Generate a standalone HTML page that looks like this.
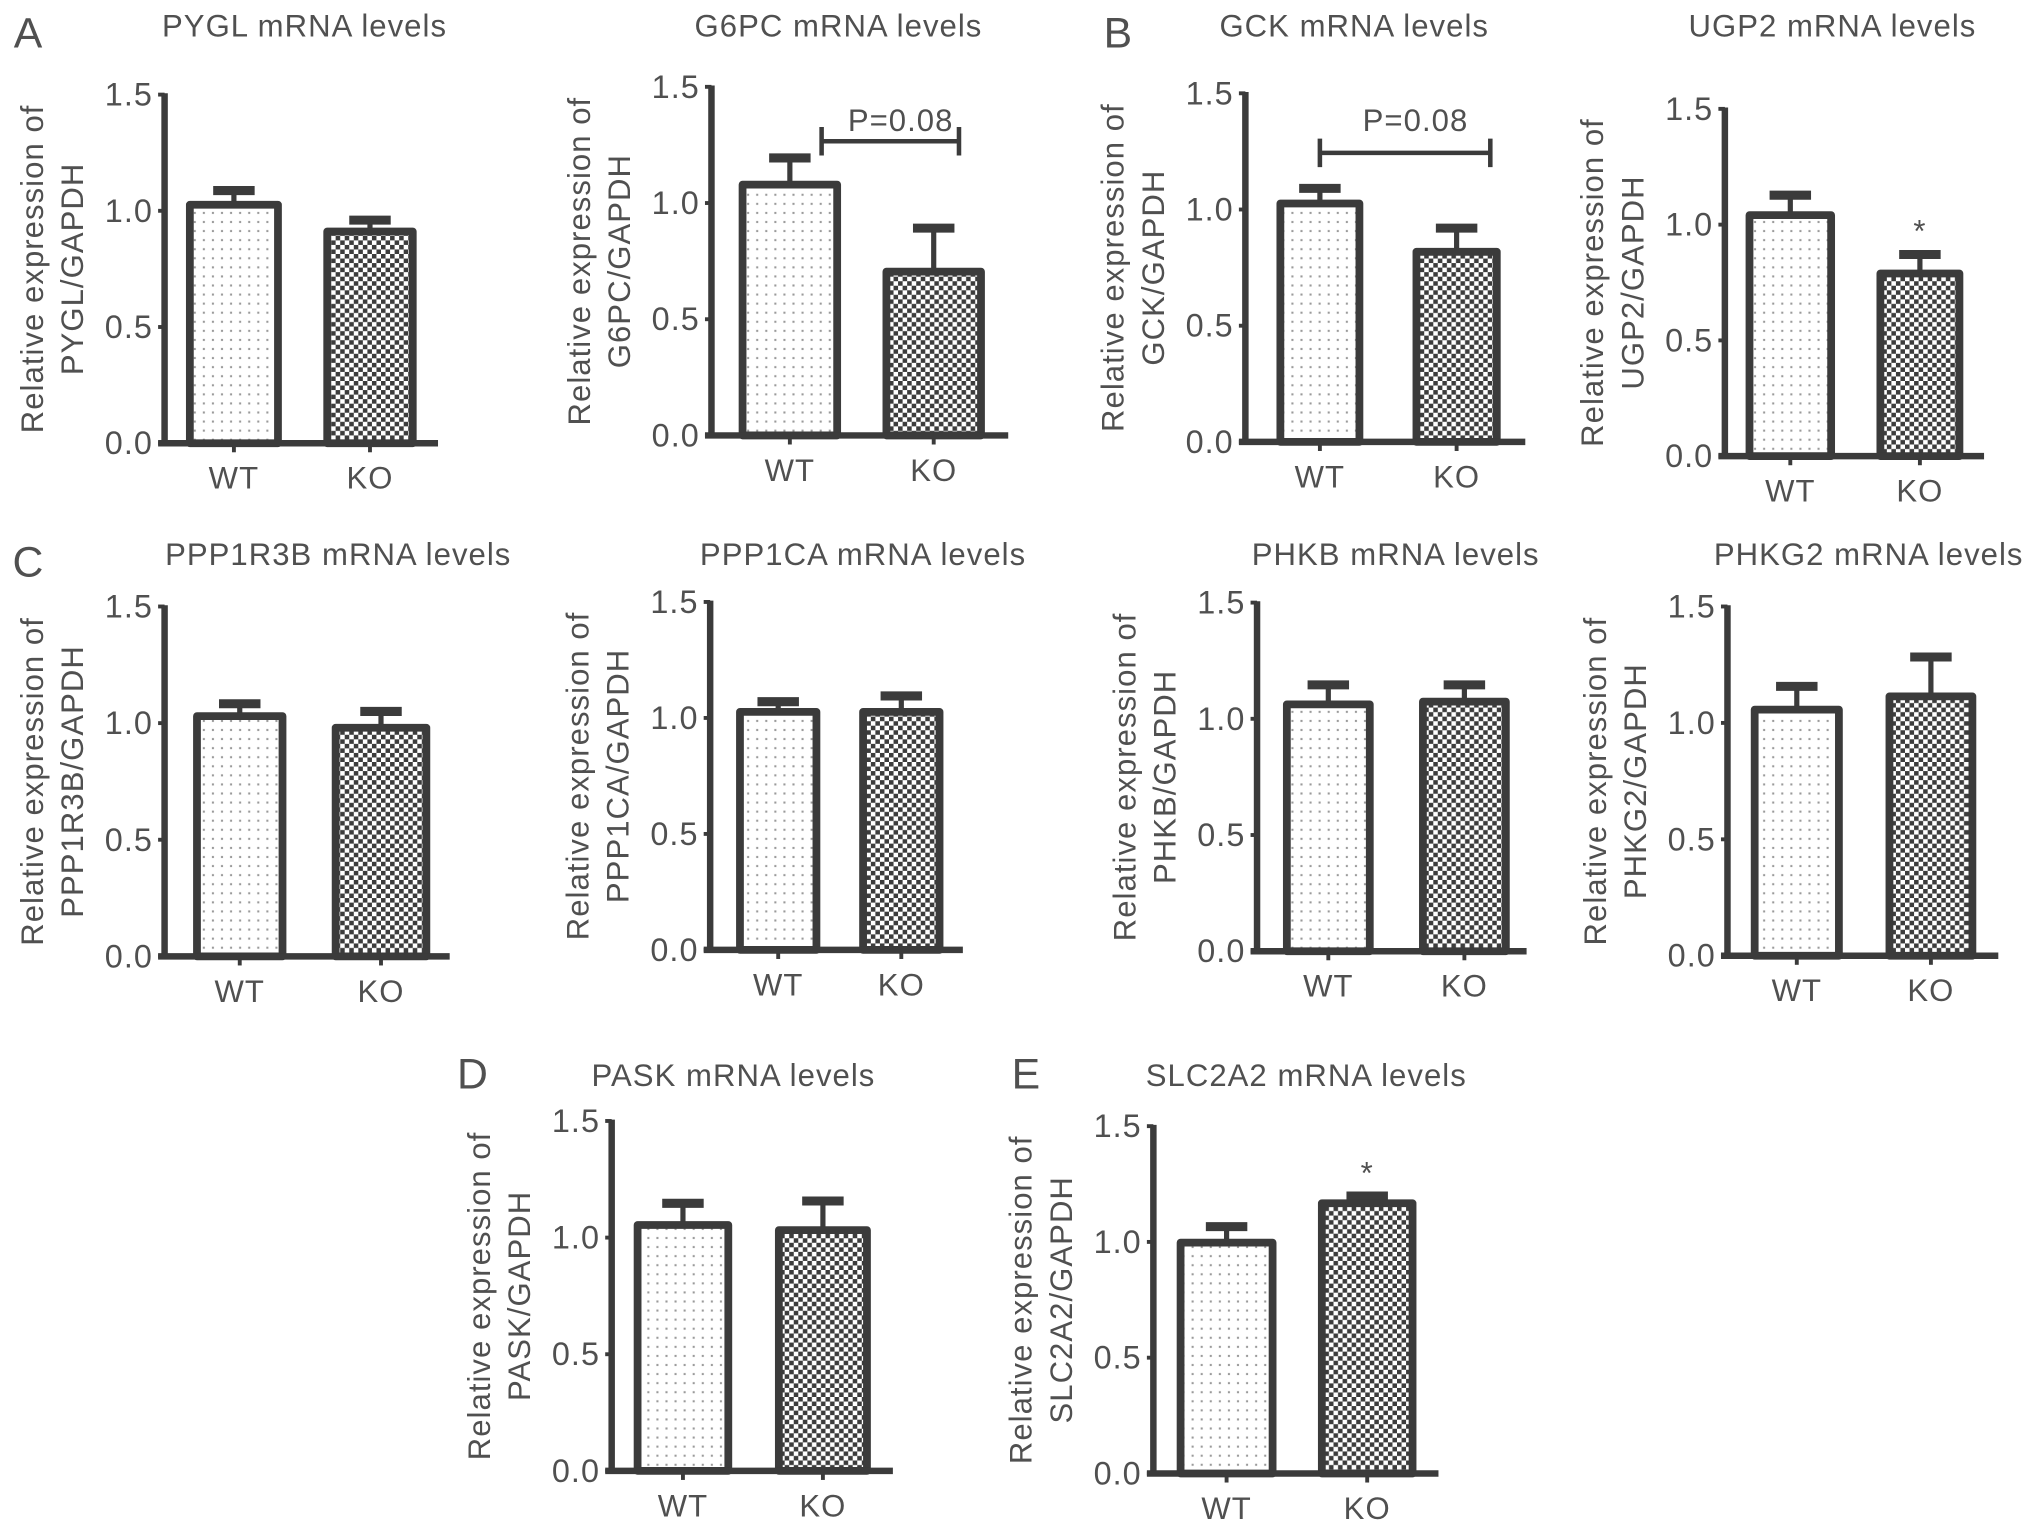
<!DOCTYPE html>
<html><head><meta charset="utf-8"><style>
html,body{margin:0;padding:0;background:#fff;}
svg{display:block;}
text{font-family:"Liberation Sans",sans-serif;fill:#505050;letter-spacing:0.8px;}
</style></head><body>
<svg id="fig" width="2032" height="1531" viewBox="0 0 1568 1181.4" xmlns="http://www.w3.org/2000/svg">
<defs>
<pattern id="dotsWT" width="7" height="7" patternUnits="userSpaceOnUse"><rect width="7" height="7" fill="#fff"/><rect x="2.5" y="2.5" width="1.6" height="1.6" fill="#9a9a9a"/></pattern>
<pattern id="checkKO" width="7" height="7" patternUnits="userSpaceOnUse"><rect width="7" height="7" fill="#fff"/><rect x="0" y="0" width="3.5" height="3.5" fill="#3c3c3c"/><rect x="3.5" y="3.5" width="3.5" height="3.5" fill="#3c3c3c"/></pattern>
</defs>
<g id="root"></g>
</svg>
<script>
const genes = ["PYGL","G6PC","GCK","UGP2","PPP1R3B","PPP1CA","PHKB","PHKG2","PASK","SLC2A2"];
const categories = ["WT","KO"];
const wtValues = [1.026,1.079,1.026,1.041,1.03,1.026,1.062,1.057,1.054,0.997];
const koValues = [0.911,0.705,0.818,0.789,0.98,1.026,1.074,1.114,1.032,1.167];
const wtErrors = [0.061,0.115,0.065,0.086,0.053,0.044,0.084,0.10,0.093,0.069];
const koErrors = [0.049,0.187,0.102,0.082,0.07,0.069,0.072,0.169,0.125,0.031];
const yTicks = [0,0.5,1.0,1.5];
const yTickLabels = ["0.0","0.5","1.0","1.5"];
const annotations = [null,"P=0.08","P=0.08","*",null,null,null,null,null,"*"];

// layout (pixel geometry, not data)
const layout = [
 {ax:127,top:73,y0:342,wt:[143.5,217.5],ko:[249.5,321.5],xe:338,tc:235,ty:20},
 {ax:549,top:67,y0:336,wt:[570,649],ko:[681,760],xe:778,tc:647,ty:20},
 {ax:961,top:72,y0:341,wt:[985,1052],ko:[1090,1158],xe:1177,tc:1045,ty:20},
 {ax:1331,top:84,y0:352,wt:[1347,1416],ko:[1448,1515],xe:1531,tc:1414,ty:20},
 {ax:127,top:468,y0:738,wt:[149,221],ko:[256,332],xe:347,tc:261,ty:428},
 {ax:548,top:464.5,y0:733,wt:[568,633],ko:[663,728],xe:743,tc:666,ty:428},
 {ax:970,top:465,y0:734,wt:[990,1060],ko:[1095,1165],xe:1178,tc:1077,ty:428},
 {ax:1333,top:468,y0:737.5,wt:[1351,1422],ko:[1455,1525],xe:1542,tc:1442,ty:428},
 {ax:472,top:865,y0:1135,wt:[489,565],ko:[598,672],xe:689,tc:566,ty:830},
 {ax:890,top:869,y0:1137,wt:[908,985],ko:[1017,1093],xe:1110,tc:1008,ty:830}
];
const letters = [["A",22,26],["B",863,26],["C",22,434],["D",365,829],["E",792,829]];

const NS="http://www.w3.org/2000/svg";
const root=document.getElementById('root');
const DARK="#3b3b3b";
const FS=24;
function mk(tag,attrs,parent){const e=document.createElementNS(NS,tag);for(const k in attrs)e.setAttribute(k,attrs[k]);(parent||root).appendChild(e);return e;}

letters.forEach(l=>{
  const t=mk('text',{x:l[1],y:l[2],'font-size':33,'text-anchor':'middle','dominant-baseline':'central'});
  
  
  t.textContent=l[0];
});

genes.forEach((g,i)=>{
  const L=layout[i];
  const gEl=mk('g',{});
  
  
  const yS=v=>L.y0-(v/1.5)*(L.y0-L.top);
  const tt=mk('text',{x:L.tc,y:L.ty,'font-size':FS,'text-anchor':'middle','dominant-baseline':'central'},gEl);
  
  
  tt.textContent=g+" mRNA levels";
  const cy=(L.top+L.y0)/2;
  const yl=mk('text',{transform:`translate(${L.ax-102},${cy}) rotate(-90)`,'font-size':FS,'text-anchor':'middle','dominant-baseline':'central'},gEl);
  
  
  yl.textContent="Relative expression of";
  const yl2=mk('text',{transform:`translate(${L.ax-71},${cy}) rotate(-90)`,'font-size':FS,'text-anchor':'middle','dominant-baseline':'central'},gEl);
  
  
  yl2.textContent=g+"/GAPDH";
  yTicks.forEach((v,k)=>{
    const y=yS(v);
    mk('line',{x1:L.ax-5,x2:L.ax,y1:y,y2:y,stroke:DARK,'stroke-width':3},gEl);
    const tl=mk('text',{x:L.ax-9,y:y,'font-size':FS+1,'text-anchor':'end','dominant-baseline':'central'},gEl);
    
    
    tl.textContent=yTickLabels[k];
  });
  const vals=[wtValues[i],koValues[i]], errs=[wtErrors[i],koErrors[i]], xs=[L.wt,L.ko], fills=["url(#dotsWT)","url(#checkKO)"];
  vals.forEach((v,k)=>{
    const x0=xs[k][0]+3,x1=xs[k][1]-3,cx=(xs[k][0]+xs[k][1])/2;
    const yt=yS(v), ye=yS(v+errs[k]);
    const eb=mk('line',{x1:cx,x2:cx,y1:yt,y2:ye,stroke:DARK,'stroke-width':4},gEl);
    
    
    const cap=mk('line',{x1:cx-16,x2:cx+16,y1:ye,y2:ye,stroke:DARK,'stroke-width':7},gEl);
    
    
    const r=mk('rect',{x:x0,y:yt,width:x1-x0,height:L.y0-yt,fill:fills[k],stroke:DARK,'stroke-width':6,'stroke-linejoin':'round'},gEl);
    
    
    mk('line',{x1:cx,x2:cx,y1:L.y0,y2:L.y0+7,stroke:DARK,'stroke-width':3},gEl);
    const xl=mk('text',{x:cx,y:L.y0+27,'font-size':FS,'text-anchor':'middle','dominant-baseline':'central'},gEl);
    
    
    xl.textContent=categories[k];
    if(k===1 && annotations[i]==="*"){
      const st=mk('text',{x:cx,y:ye-18,'font-size':FS,'text-anchor':'middle','dominant-baseline':'central'},gEl);
      
      
      st.textContent="*";
    }
  });
  const ya=mk('line',{x1:L.ax,x2:L.ax,y1:L.top-1,y2:L.y0,stroke:DARK,'stroke-width':5},gEl);
  
  
  const xa=mk('line',{x1:L.ax-5,x2:L.xe,y1:L.y0,y2:L.y0,stroke:DARK,'stroke-width':5},gEl);
  
  
  if(annotations[i] && annotations[i].startsWith("P")){
    const cw=(L.wt[0]+L.wt[1])/2, ck=(L.ko[0]+L.ko[1])/2;
    const by = i===1 ? 109 : 118;
    const x1 = i===1 ? 634 : cw, x2 = i===1 ? 740 : ck+26;
    const br=mk('path',{d:`M${x1},${by-11}V${by+11}M${x1},${by}H${x2}M${x2},${by-11}V${by+11}`,stroke:DARK,'stroke-width':3.5,fill:'none'},gEl);
    
    
    const pt=mk('text',{x:(x1+x2)/2+8,y:93,'font-size':FS,'text-anchor':'middle','dominant-baseline':'central'},gEl);
    
    
    pt.textContent=annotations[i];
  }
});
</script>
</body></html>
